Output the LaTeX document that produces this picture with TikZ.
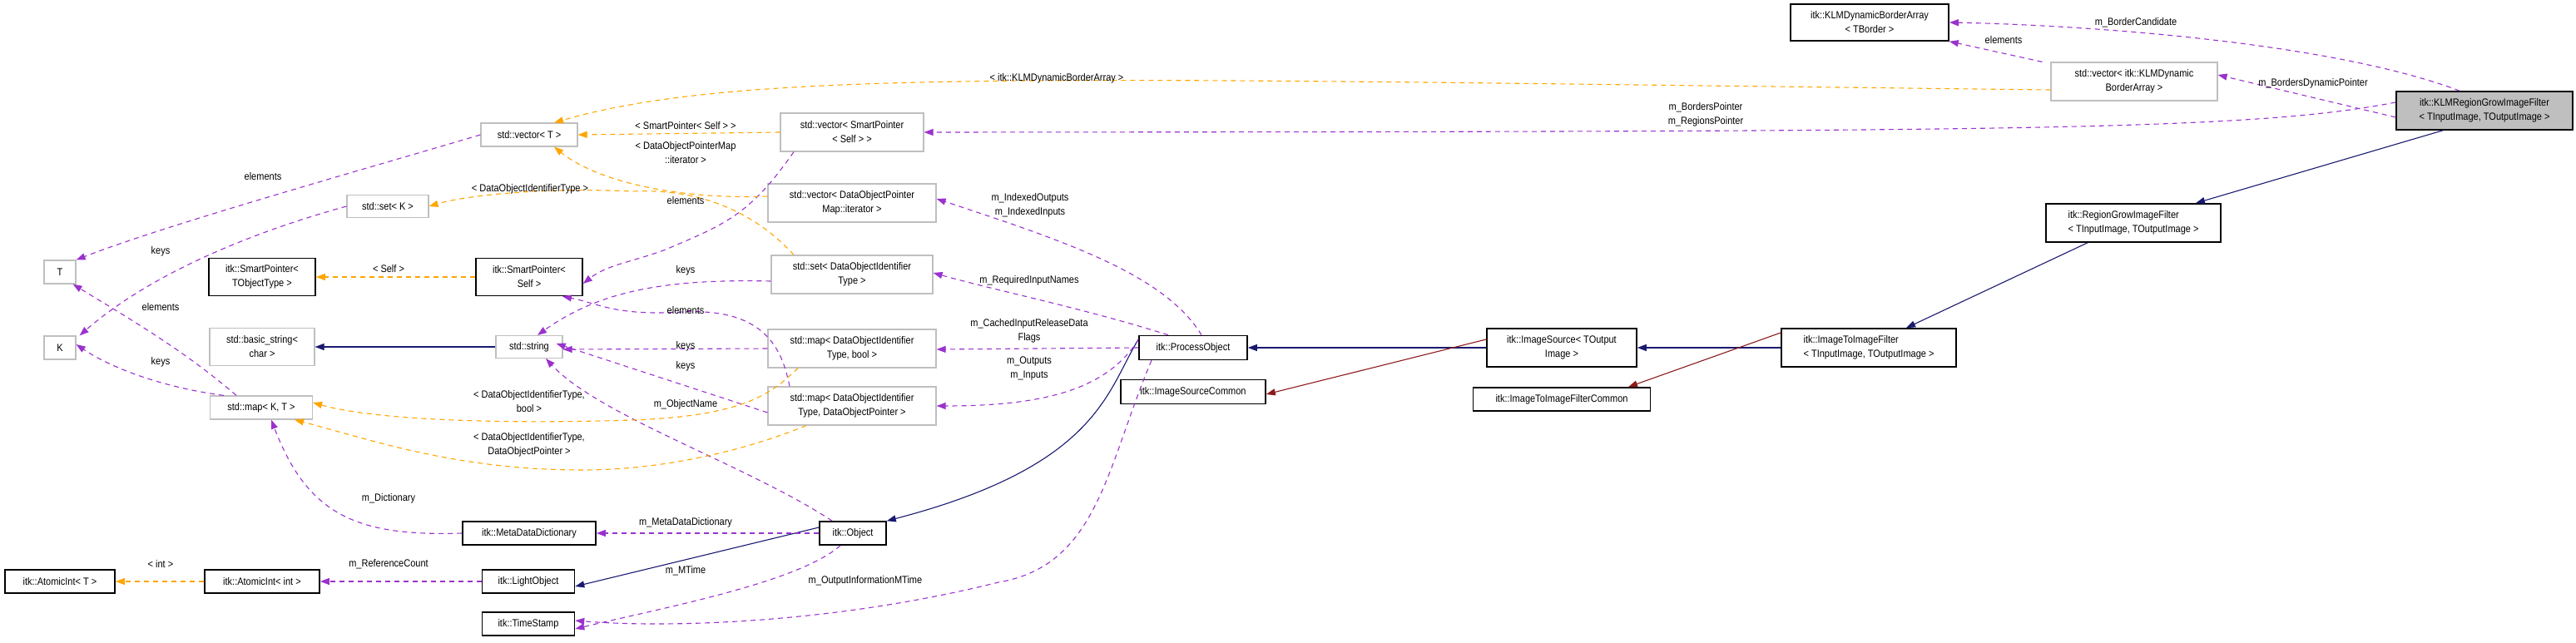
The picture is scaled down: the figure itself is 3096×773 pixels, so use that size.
\documentclass[tikz,border=0pt]{standalone}
\usepackage{fontspec}
\setmainfont{Liberation Sans}[FakeStretch=0.88]
\usetikzlibrary{arrows.meta}
\definecolor{pur}{HTML}{9A32CD}
\definecolor{org}{HTML}{FFA500}
\definecolor{nav}{HTML}{191970}
\definecolor{drd}{HTML}{8B1A1A}
\begin{document}
\begin{tikzpicture}[x=1pt,y=-1pt,
  font=\fontsize{12.5}{17}\selectfont,
  box/.style={draw=black,line width=1.6pt,inner sep=2pt,align=center},
  gbox/.style={draw=black!25,line width=1.2pt,inner sep=2pt,align=center},
  tip/.style={-{Triangle[length=11pt,width=8pt]}},
  mem/.style={tip,draw=pur,line width=1.1pt,dash pattern=on 6pt off 5pt},
  tpl/.style={tip,draw=org,line width=1.1pt,dash pattern=on 6pt off 5pt},
  inh/.style={tip,draw=nav,line width=1.1pt},
  inr/.style={tip,draw=drd,line width=1.1pt},
  lab/.style={inner sep=0pt,align=center}]
\useasboundingbox (0,0) rectangle (3096,773);
% nodes
\node[box,minimum width=190,minimum height=44] (klmdba) at (2247,27) {itk::KLMDynamicBorderArray\\< TBorder >};
\node[gbox,minimum width=200,minimum height=46] (vklm) at (2565,98) {std::vector< itk::KLMDynamic\\BorderArray >};
\node[box,fill=black!25,minimum width=212,minimum height=46] (klm) at (2986,133) {itk::KLMRegionGrowImageFilter\\< TInputImage, TOutputImage >};
\node[box,align=left,minimum width=210,minimum height=46] (rg) at (2564,268) {itk::RegionGrowImageFilter\\< TInputImage, TOutputImage >};
\node[box,align=left,minimum width=210,minimum height=46] (itif) at (2246,418) {itk::ImageToImageFilter\\< TInputImage, TOutputImage >};
\node[box,minimum width=213,minimum height=28] (itifc) at (1877,480) {itk::ImageToImageFilterCommon};
\node[box,minimum width=180,minimum height=46] (is) at (1877,418) {itk::ImageSource< TOutput\\Image >};
\node[box,minimum width=174,minimum height=29] (isc) at (1434,471) {itk::ImageSourceCommon};
\node[box,minimum width=130,minimum height=29] (po) at (1434,418) {itk::ProcessObject};
\node[box,minimum width=80,minimum height=28] (obj) at (1025,641) {itk::Object};
\node[box,minimum width=111,minimum height=28] (lo) at (635,699) {itk::LightObject};
\node[box,minimum width=111,minimum height=28] (ts) at (635,750) {itk::TimeStamp};
\node[box,minimum width=160,minimum height=28] (mdd) at (636,641) {itk::MetaDataDictionary};
\node[box,minimum width=138,minimum height=28] (aii) at (315,699) {itk::AtomicInt< int >};
\node[box,minimum width=132,minimum height=28] (ait) at (72,699) {itk::AtomicInt< T >};
\node[gbox,minimum width=123,minimum height=28] (mapkt) at (314,490) {std::map< K, T >};
\node[gbox,minimum width=38,minimum height=28] (K) at (72,418) {K};
\node[gbox,minimum width=38,minimum height=28] (T) at (72,327) {T};
\node[gbox,minimum width=126,minimum height=45] (bstr) at (315,417) {std::basic\_string<\\char >};
\node[gbox,minimum width=80,minimum height=27] (str) at (636,417) {std::string};
\node[box,minimum width=128,minimum height=45] (sptt) at (315,333) {itk::SmartPointer<\\TObjectType >};
\node[box,minimum width=128,minimum height=45] (sps) at (636,333) {itk::SmartPointer<\\Self >};
\node[gbox,minimum width=98,minimum height=27] (setk) at (466,248) {std::set< K >};
\node[gbox,minimum width=116,minimum height=28] (vect) at (636,162) {std::vector< T >};
\node[gbox,minimum width=172,minimum height=46] (vsp) at (1024,159) {std::vector< SmartPointer\\< Self > >};
\node[gbox,minimum width=202,minimum height=46] (vdop) at (1024,244) {std::vector< DataObjectPointer\\Map::iterator >};
\node[gbox,minimum width=194,minimum height=46] (sdoit) at (1024,330) {std::set< DataObjectIdentifier\\Type >};
\node[gbox,minimum width=202,minimum height=46] (mbool) at (1024,419) {std::map< DataObjectIdentifier\\Type, bool >};
\node[gbox,minimum width=202,minimum height=46] (mdop) at (1024,488) {std::map< DataObjectIdentifier\\Type, DataObjectPointer >};
% edges
\draw[mem] ([xshift=-30]klm.north) .. controls (2800,50) and (2500,30) .. (klmdba.east);
\draw[mem] ([xshift=-10]vklm.north west) -- (klmdba.south east);
\draw[mem] ([yshift=-8]klm.west) -- ([yshift=8]vklm.east);
\draw[mem] ([yshift=10]klm.west) .. controls (2700,158) and (2400,158) .. (vsp.east);
\draw[inh] ([xshift=-50]klm.south) -- ([xshift=75]rg.north);
\draw[inh] ([xshift=-55]rg.south) -- ([xshift=45]itif.north);
\draw[inh] (itif.west) -- (is.east);
\draw[inr] ([yshift=18]itif.west) -- ([xshift=80]itifc.north);
\draw[inh] (is.west) -- (po.east);
\draw[inr] ([yshift=10]is.west) -- ([yshift=-3]isc.east);
\draw[inh] ([yshift=10]po.west) .. controls (1330,470) and (1320,560) .. (obj.north east);
\draw[inh] ([yshift=7]obj.west) -- ([yshift=-6]lo.east);
\draw[mem] (obj.west) -- (mdd.east);
\draw[mem] ([xshift=-15]obj.south) .. controls (960,700) and (800,730) .. ([yshift=-6]ts.east);
\draw[mem] ([xshift=-50]po.south) .. controls (1330,560) and (1320,680) .. (1200,700) .. controls (1000,750) and (800,755) .. ([yshift=4]ts.east);
\draw[mem] ([xshift=-25]obj.north) .. controls (900,560) and (720,500) .. ([xshift=20]str.south);
\draw[mem] ([xshift=10]po.north) .. controls (1400,330) and (1280,290) .. ([yshift=5]vdop.east);
\draw[mem] ([xshift=-30]po.north) .. controls (1300,370) and (1200,350) .. ([yshift=2]sdoit.east);
\draw[mem] (po.west) -- ([yshift=-1]mbool.east);
\draw[mem] ([yshift=10]po.west) .. controls (1330,470) and (1250,488) .. (mdop.east);
\draw[mem] ([xshift=-70]vsp.south) .. controls (900,260) and (870,270) .. (800,300) .. controls (760,315) and (730,318) .. ([yshift=-8]sps.east);
\draw[mem] ([xshift=-75]mdop.north) .. controls (940,420) and (920,370) .. (820,375) .. controls (740,380) and (720,365) .. ([xshift=40]sps.south);
\draw[mem] ([yshift=-8]sdoit.west) .. controls (800,335) and (720,350) .. ([xshift=10]str.north);
\draw[mem] (mbool.west) -- ([yshift=-3]str.east);
\draw[mem] ([yshift=-8]mdop.west) -- ([xshift=-8,yshift=4]str.east);
\draw[tpl] ([yshift=-10]vklm.west) .. controls (1300,95) and (900,80) .. ([xshift=30]vect.north);
\draw[tpl] (vsp.west) -- (vect.east);
\draw[tpl] ([yshift=8]vdop.west) .. controls (820,240) and (720,220) .. ([xshift=30]vect.south);
\draw[tpl] ([xshift=-70]sdoit.north) .. controls (930,280) and (870,225) .. (760,230) .. controls (650,225) and (560,235) .. (setk.east);
\draw[tpl] (sps.west) -- (sptt.east);
\draw[tpl] ([xshift=-65]mbool.south) .. controls (930,470) and (900,500) .. (760,505) .. controls (600,510) and (450,505) .. ([yshift=6]mapkt.east);
\draw[tpl] ([xshift=-55]mdop.south) .. controls (900,540) and (800,565) .. (700,565) .. controls (550,565) and (450,530) .. ([xshift=40]mapkt.south);
\draw[inh] (str.west) -- (bstr.east);
\draw[mem] (vect.west) .. controls (450,200) and (200,270) .. (T.north east);
\draw[mem] (setk.west) .. controls (300,280) and (180,330) .. ([xshift=4]K.north east);
\draw[mem] ([xshift=-30]mapkt.north) .. controls (220,420) and (150,380) .. ([xshift=-4]T.south east);
\draw[mem] ([xshift=-45]mapkt.north) .. controls (190,465) and (130,440) .. ([yshift=4]K.east);
\draw[mem] (mdd.west) .. controls (430,645) and (370,620) .. ([xshift=12]mapkt.south);
\draw[mem] (lo.west) -- (aii.east);
\draw[tpl] (aii.west) -- (ait.east);
% labels
\node[lab] (l1) at (2567,27) {m\_BorderCandidate};
\node[lab] (l2) at (2408,48) {elements};
\node[lab] (l3) at (2780,100) {m\_BordersDynamicPointer};
\node[lab] (l4) at (2050,138) {m\_BordersPointer\\m\_RegionsPointer};
\node[lab] (l5) at (1270,94) {< itk::KLMDynamicBorderArray >};
\node[lab] (l6) at (824,151) {< SmartPointer< Self > >};
\node[lab] (l7) at (824,184) {< DataObjectPointerMap\\::iterator >};
\node[lab] (l8) at (637,227) {< DataObjectIdentifierType >};
\node[lab] (l9) at (824,241) {elements};
\node[lab] (l10) at (824,325) {keys};
\node[lab] (l11) at (824,373) {elements};
\node[lab] (l12) at (824,416) {keys};
\node[lab] (l13) at (824,440) {keys};
\node[lab] (l14) at (824,486) {m\_ObjectName};
\node[lab] (l15) at (636,483) {< DataObjectIdentifierType,\\bool >};
\node[lab] (l16) at (636,535) {< DataObjectIdentifierType,\\DataObjectPointer >};
\node[lab] (l17) at (467,323) {< Self >};
\node[lab] (l18) at (316,212) {elements};
\node[lab] (l19) at (193,302) {keys};
\node[lab] (l20) at (193,369) {elements};
\node[lab] (l21) at (193,435) {keys};
\node[lab] (l22) at (467,599) {m\_Dictionary};
\node[lab] (l23) at (824,628) {m\_MetaDataDictionary};
\node[lab] (l24) at (467,678) {m\_ReferenceCount};
\node[lab] (l25) at (193,678) {< int >};
\node[lab] (l26) at (824,686) {m\_MTime};
\node[lab] (l27) at (1040,698) {m\_OutputInformationMTime};
\node[lab] (l28) at (1238,247) {m\_IndexedOutputs\\m\_IndexedInputs};
\node[lab] (l29) at (1237,337) {m\_RequiredInputNames};
\node[lab] (l30) at (1237,398) {m\_CachedInputReleaseData\\Flags};
\node[lab] (l31) at (1237,443) {m\_Outputs\\m\_Inputs};
\end{tikzpicture}
\end{document}
